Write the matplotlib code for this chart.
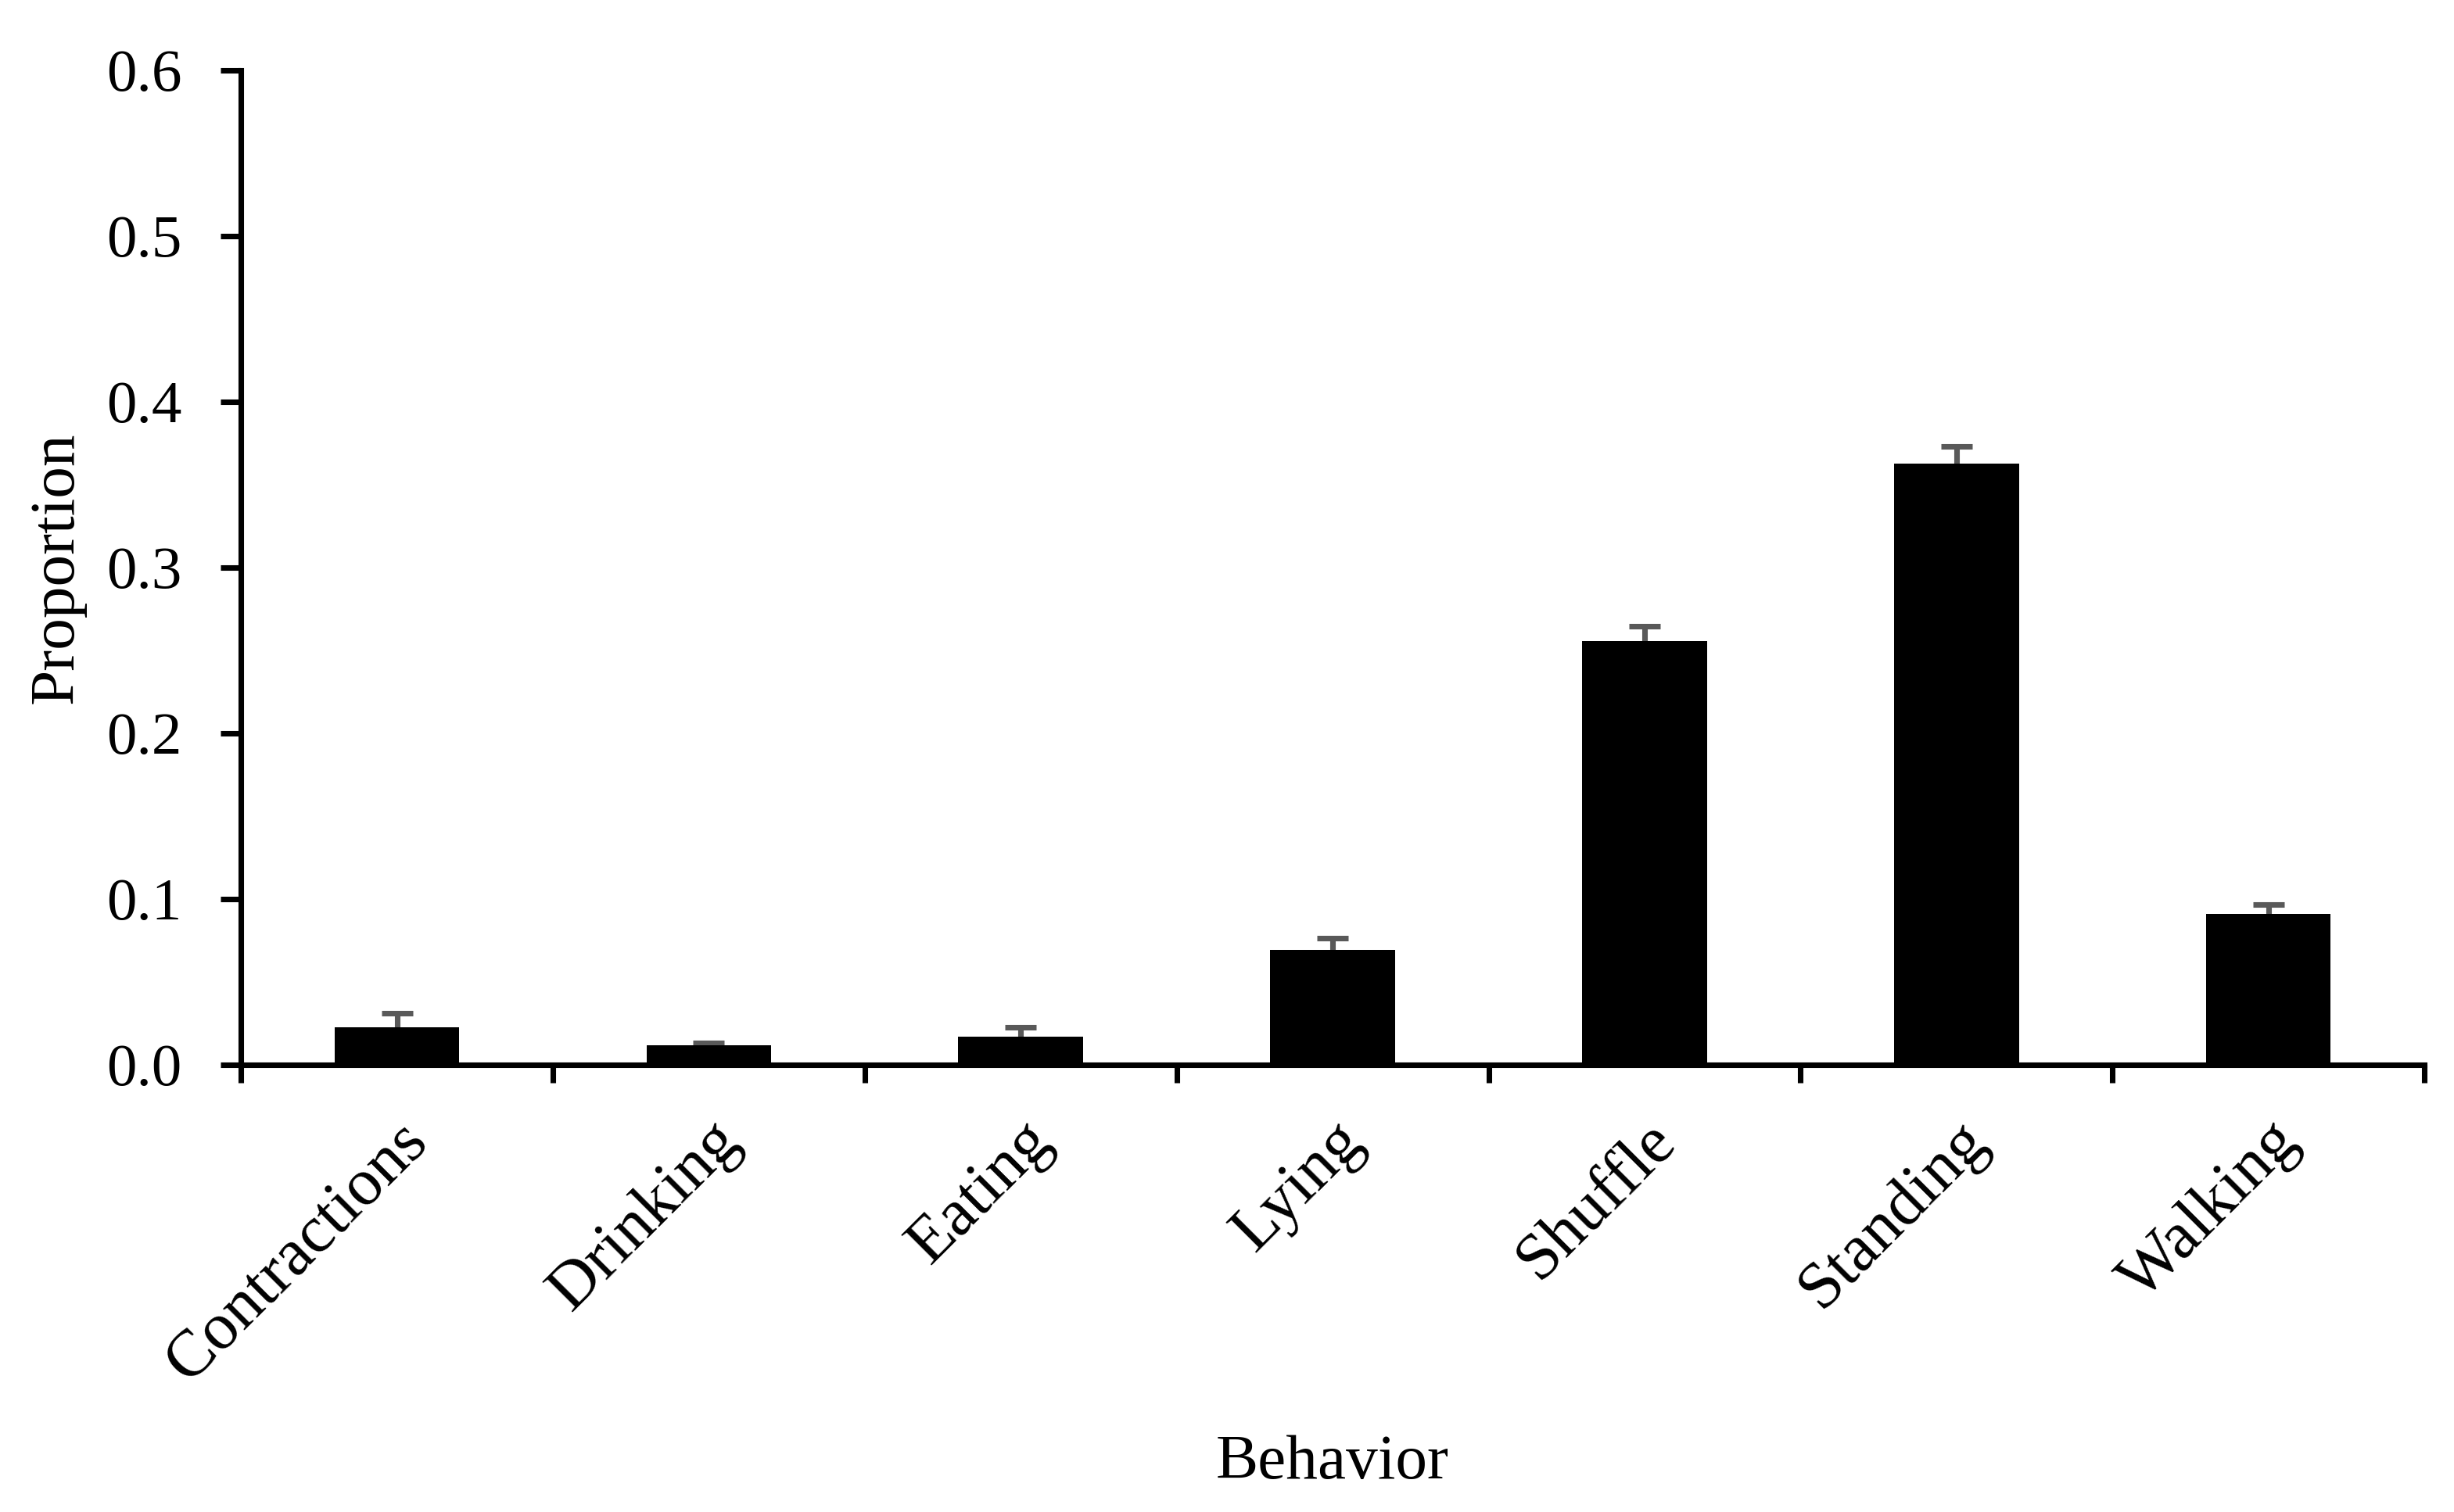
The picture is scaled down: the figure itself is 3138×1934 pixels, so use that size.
import matplotlib

matplotlib.use("Agg")

import matplotlib.pyplot as plt
import numpy as np


BEHAVIORS = [
    "Contractions",
    "Drinking",
    "Eating",
    "Lying",
    "Shuffle",
    "Standing",
    "Walking",
]
PROPORTIONS = [0.0226, 0.0118, 0.0170, 0.0693, 0.2554, 0.3629, 0.0910]
ERRORS = [0.0085, 0.0015, 0.0055, 0.0070, 0.0090, 0.0100, 0.0058]

Y_TICKS = [0.0, 0.1, 0.2, 0.3, 0.4, 0.5, 0.6]
Y_TICK_LABELS = ["0.0", "0.1", "0.2", "0.3", "0.4", "0.5", "0.6"]

DPI = 300
FONT = ["Liberation Serif", "DejaVu Serif"]


def main():
    plt.rcParams["font.family"] = FONT

    fig = plt.figure(figsize=(3138 / DPI, 1934 / DPI), dpi=DPI)
    ax = fig.add_axes([0.0982, 0.2958, 0.8897, 0.6577])

    positions = np.arange(len(BEHAVIORS)) + 0.5

    # error bars go under the bars so only the upper half shows
    ax.errorbar(
        positions,
        PROPORTIONS,
        yerr=ERRORS,
        fmt="none",
        ecolor="#595959",
        elinewidth=1.7,
        capsize=4.7,
        capthick=1.7,
        zorder=1,
    )
    ax.bar(
        positions,
        PROPORTIONS,
        width=0.4,
        color="black",
        zorder=2,
    )

    ax.set_xlim(0, len(BEHAVIORS))
    ax.set_ylim(0, 0.6)

    ax.set_yticks(Y_TICKS)
    ax.set_yticklabels(Y_TICK_LABELS, fontsize=18.5)

    # major ticks sit between categories, labels go on minor ticks
    ax.set_xticks(np.arange(len(BEHAVIORS) + 1))
    ax.set_xticklabels([])
    ax.set_xticks(positions, minor=True)
    ax.set_xticklabels(
        BEHAVIORS,
        minor=True,
        rotation=45,
        ha="right",
        rotation_mode="anchor",
        fontsize=20.5,
    )

    ax.tick_params(axis="y", which="major", direction="out",
                   length=6.2, width=1.7, pad=12)
    ax.tick_params(axis="x", which="major", direction="out",
                   length=5.5, width=1.7)
    ax.tick_params(axis="x", which="minor", length=0, pad=14)

    for side in ["top", "right"]:
        ax.spines[side].set_visible(False)
    for side in ["left", "bottom"]:
        ax.spines[side].set_linewidth(1.7)

    ax.set_ylabel("Proportion", fontsize=19.5)
    ax.set_xlabel("Behavior", fontsize=19.5)
    ax.yaxis.set_label_coords(-0.071, 0.5)
    ax.xaxis.set_label_coords(0.5, -0.372)

    fig.savefig("out.png", dpi=DPI)
    plt.close(fig)


if __name__ == "__main__":
    main()
